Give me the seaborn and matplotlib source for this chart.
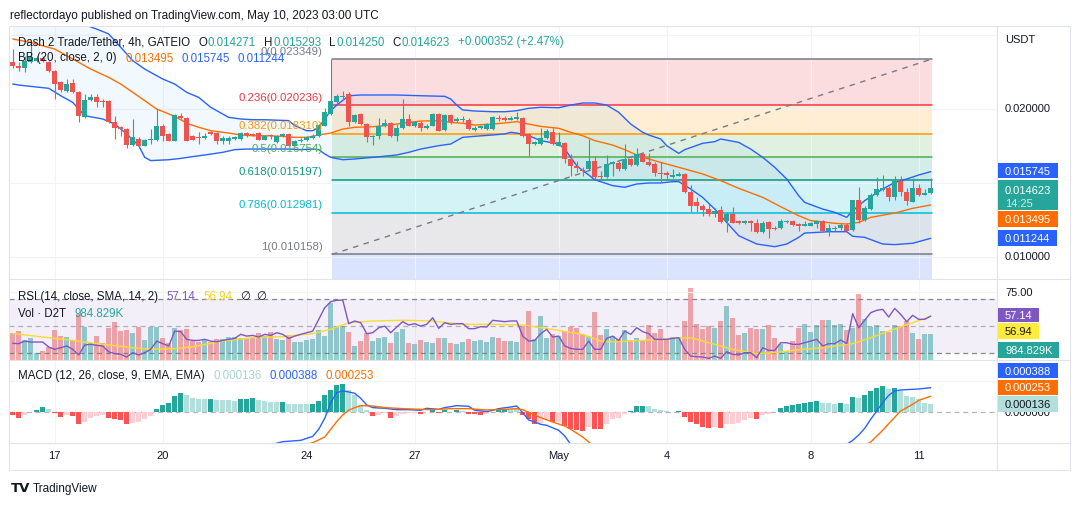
import numpy as np
import matplotlib
matplotlib.use('Agg')
import matplotlib.pyplot as plt
import seaborn as sns
from matplotlib.patches import Rectangle
from matplotlib.lines import Line2D

# Dash 2 Trade / Tether, 4h candles, GATEIO (index 0 = Apr 15 20:00 UTC)
opens = [0.02312, 0.02290, 0.02272, 0.02312, 0.02324, 0.02339, 0.02312, 0.02256, 0.02177, 0.02121,
         0.02173, 0.02110, 0.01941, 0.02060, 0.02076, 0.02054, 0.02054, 0.01907, 0.01874, 0.01862,
         0.01754, 0.01795, 0.01750, 0.01788, 0.01790, 0.01885, 0.01826, 0.01784, 0.01948, 0.01937,
         0.01813, 0.01811, 0.01799, 0.01840, 0.01835, 0.01784, 0.01784, 0.01795, 0.01795, 0.01835,
         0.01829, 0.01835, 0.01790, 0.01822, 0.01772, 0.01817, 0.01829, 0.01750, 0.01779, 0.01788,
         0.01799, 0.01813, 0.01885, 0.01964, 0.02042, 0.02076, 0.02099, 0.01907, 0.01964, 0.01896,
         0.01806, 0.01813, 0.01880, 0.01903, 0.01817, 0.01867, 0.01930, 0.01880, 0.01903, 0.01869,
         0.01885, 0.01964, 0.01858, 0.01957, 0.01919, 0.01921, 0.01925, 0.01858, 0.01867, 0.01862,
         0.01862, 0.01937, 0.01939, 0.01925, 0.01930, 0.01934, 0.01829, 0.01759, 0.01759, 0.01799,
         0.01840, 0.01750, 0.01768, 0.01660, 0.01615, 0.01588, 0.01592, 0.01649, 0.01547, 0.01536,
         0.01626, 0.01633, 0.01592, 0.01660, 0.01619, 0.01694, 0.01642, 0.01626, 0.01565, 0.01565,
         0.01536, 0.01547, 0.01559, 0.01439, 0.01367, 0.01345, 0.01322, 0.01286, 0.01316, 0.01241,
         0.01289, 0.01239, 0.01228, 0.01241, 0.01228, 0.01165, 0.01232, 0.01196, 0.01192, 0.01232,
         0.01244, 0.01221, 0.01210, 0.01210, 0.01223, 0.01241, 0.01176, 0.01187, 0.01194, 0.01217,
         0.01181, 0.01383, 0.01248, 0.01322, 0.01417, 0.01451, 0.01464, 0.01401, 0.01514, 0.01439,
         0.01372, 0.01464, 0.01419, 0.014271]
highs = [0.02402, 0.02312, 0.02357, 0.02436, 0.02357, 0.02357, 0.02324, 0.02263, 0.02189, 0.02200,
         0.02200, 0.02121, 0.02099, 0.02099, 0.02099, 0.02065, 0.02060, 0.01948, 0.01885, 0.01867,
         0.01930, 0.01806, 0.01795, 0.01862, 0.01997, 0.01896, 0.01835, 0.01964, 0.01970, 0.01941,
         0.01822, 0.01840, 0.01835, 0.01851, 0.01840, 0.01813, 0.01817, 0.01817, 0.01840, 0.01844,
         0.01835, 0.01840, 0.01822, 0.01829, 0.01822, 0.01835, 0.01833, 0.01788, 0.01799, 0.01817,
         0.01829, 0.01896, 0.02002, 0.023349, 0.02099, 0.02121, 0.02110, 0.01964, 0.01968, 0.01903,
         0.01822, 0.01934, 0.01930, 0.01912, 0.01896, 0.02065, 0.01964, 0.01919, 0.01919, 0.01896,
         0.01970, 0.01970, 0.01964, 0.01964, 0.01941, 0.01948, 0.01934, 0.01885, 0.01889, 0.01903,
         0.01948, 0.01957, 0.01948, 0.01948, 0.01975, 0.01941, 0.01835, 0.01784, 0.01867, 0.01862,
         0.01867, 0.01840, 0.01772, 0.01694, 0.01649, 0.01604, 0.01795, 0.01678, 0.01581, 0.01687,
         0.01649, 0.01649, 0.01761, 0.01664, 0.01732, 0.01709, 0.01700, 0.01637, 0.01637, 0.01581,
         0.01592, 0.01574, 0.01565, 0.01484, 0.01401, 0.01356, 0.01356, 0.01327, 0.01345, 0.01300,
         0.01334, 0.01246, 0.01246, 0.01250, 0.01255, 0.01241, 0.01241, 0.01210, 0.01255, 0.01250,
         0.01250, 0.01228, 0.01239, 0.01237, 0.01248, 0.01246, 0.01221, 0.01210, 0.01228, 0.01226,
         0.01383, 0.01469, 0.01340, 0.01428, 0.01536, 0.01552, 0.01475, 0.01547, 0.01543, 0.01462,
         0.01532, 0.01491, 0.01457, 0.015293]
lows = [0.02272, 0.02256, 0.02245, 0.02308, 0.02312, 0.02312, 0.02245, 0.02065, 0.02110, 0.02110,
        0.02105, 0.01907, 0.01934, 0.02054, 0.02009, 0.02009, 0.01903, 0.01795, 0.01817, 0.01732,
        0.01750, 0.01732, 0.01745, 0.01761, 0.01784, 0.01784, 0.01779, 0.01779, 0.01930, 0.01779,
        0.01786, 0.01761, 0.01795, 0.01822, 0.01761, 0.01761, 0.01761, 0.01788, 0.01790, 0.01806,
        0.01813, 0.01786, 0.01786, 0.01795, 0.01768, 0.01806, 0.01745, 0.01745, 0.01772, 0.01784,
        0.01795, 0.01806, 0.01880, 0.01957, 0.02031, 0.02060, 0.01885, 0.01903, 0.01892, 0.01777,
        0.01757, 0.01795, 0.01874, 0.01806, 0.01784, 0.01862, 0.01880, 0.01874, 0.01851, 0.01862,
        0.01880, 0.01847, 0.01851, 0.01896, 0.01907, 0.01912, 0.01858, 0.01851, 0.01862, 0.01858,
        0.01858, 0.01919, 0.01917, 0.01921, 0.01925, 0.01806, 0.01682, 0.01754, 0.01754, 0.01795,
        0.01757, 0.01745, 0.01633, 0.01547, 0.01574, 0.01547, 0.01588, 0.01525, 0.01520, 0.01532,
        0.01547, 0.01581, 0.01588, 0.01615, 0.01615, 0.01637, 0.01615, 0.01547, 0.01507, 0.01520,
        0.01532, 0.01543, 0.01430, 0.01300, 0.01304, 0.01273, 0.01273, 0.01266, 0.01226, 0.01165,
        0.01226, 0.01219, 0.01223, 0.01176, 0.01158, 0.01160, 0.01124, 0.01178, 0.01187, 0.01228,
        0.01210, 0.01176, 0.01205, 0.01205, 0.01192, 0.01172, 0.01142, 0.01176, 0.01183, 0.01174,
        0.01176, 0.01226, 0.01244, 0.01318, 0.01412, 0.01446, 0.01379, 0.01385, 0.01408, 0.01352,
        0.01367, 0.01412, 0.01415, 0.014250]
closes = [0.02285, 0.02272, 0.02324, 0.02346, 0.02339, 0.02324, 0.02256, 0.02166, 0.02128, 0.02166,
          0.02110, 0.01948, 0.02060, 0.02076, 0.02047, 0.02042, 0.01907, 0.01867, 0.01862, 0.01754,
          0.01806, 0.01745, 0.01788, 0.01795, 0.01885, 0.01817, 0.01784, 0.01957, 0.01934, 0.01784,
          0.01790, 0.01802, 0.01817, 0.01829, 0.01784, 0.01802, 0.01802, 0.01806, 0.01835, 0.01822,
          0.01824, 0.01790, 0.01817, 0.01813, 0.01817, 0.01829, 0.01750, 0.01784, 0.01790, 0.01806,
          0.01817, 0.01889, 0.01975, 0.02054, 0.02087, 0.02087, 0.01912, 0.01957, 0.01896, 0.01806,
          0.01817, 0.01880, 0.01903, 0.01813, 0.01867, 0.01930, 0.01885, 0.01907, 0.01869, 0.01885,
          0.01964, 0.01851, 0.01957, 0.01912, 0.01930, 0.01930, 0.01862, 0.01867, 0.01885, 0.01896,
          0.01941, 0.01930, 0.01925, 0.01934, 0.01941, 0.01813, 0.01761, 0.01772, 0.01799, 0.01851,
          0.01761, 0.01777, 0.01660, 0.01615, 0.01597, 0.01581, 0.01649, 0.01536, 0.01541, 0.01626,
          0.01642, 0.01592, 0.01660, 0.01619, 0.01694, 0.01642, 0.01619, 0.01563, 0.01556, 0.01554,
          0.01554, 0.01559, 0.01439, 0.01345, 0.01340, 0.01318, 0.01286, 0.01309, 0.01232, 0.01286,
          0.01228, 0.01226, 0.01241, 0.01226, 0.01165, 0.01226, 0.01187, 0.01187, 0.01244, 0.01244,
          0.01214, 0.01210, 0.01221, 0.01226, 0.01241, 0.01176, 0.01194, 0.01194, 0.01217, 0.01176,
          0.01383, 0.01248, 0.01327, 0.01417, 0.01457, 0.01464, 0.01401, 0.01514, 0.01435, 0.01379,
          0.01464, 0.01419, 0.01430, 0.014623]
# volume in thousands of D2T
volume_k = [1014, 1105, 741, 819, 260, 325, 481, 1131, 910, 871,
            741, 1755, 1274, 650, 910, 624, 1235, 1456, 1105, 1131,
            1040, 1274, 754, 1274, 1274, 845, 624, 1209, 1144, 1170,
            715, 689, 754, 689, 780, 780, 884, 884, 819, 780,
            845, 1014, 910, 1066, 780, 754, 936, 689, 689, 754,
            780, 1144, 910, 2184, 1274, 1300, 1079, 520, 715, 1040,
            715, 819, 871, 650, 1066, 1170, 624, 611, 741, 689,
            650, 819, 819, 624, 611, 689, 780, 715, 741, 689,
            871, 819, 715, 715, 676, 1300, 1885, 780, 1690, 819,
            1001, 910, 1105, 1261, 1209, 1001, 910, 1846, 949, 1170,
            910, 780, 1131, 741, 819, 741, 1339, 1014, 1170, 741,
            871, 871, 1495, 2795, 1391, 1170, 1300, 1235, 1495, 2080,
            1625, 949, 1040, 1235, 1170, 1170, 1339, 845, 585, 325,
            715, 1235, 1365, 1079, 1339, 1534, 1534, 1339, 1391, 1131,
            1235, 2561, 1586, 1261, 1339, 1105, 1079, 1339, 1300, 1495,
            1040, 806, 1001, 984.829]

# Bollinger Bands (20, close, 2) at (candle index, price)
bb_upper_idx = [0, 7, 13, 14, 16, 18, 20, 22, 25, 27, 29, 31, 33, 36, 38, 40, 42, 46, 47, 49, 50, 51, 52,
                53, 54, 56, 58, 64, 68, 72, 73, 74, 75, 77, 80, 82, 84, 86, 88, 91, 93, 95, 97, 99, 101,
                103, 105, 106, 108, 109, 111, 112, 115, 117, 118, 121, 123, 125, 127, 129, 131, 132, 135,
                137, 139, 140, 142, 145, 147, 149, 151, 153]
bb_upper = [0.0290, 0.0270, 0.02551, 0.02537, 0.02504, 0.02414, 0.02324, 0.02267, 0.02200, 0.02166,
            0.02110, 0.02076, 0.02009, 0.01941, 0.01930, 0.01925, 0.01925, 0.01919, 0.01885, 0.01851,
            0.01851, 0.01874, 0.01930, 0.01986, 0.02024, 0.02087, 0.02092, 0.02092, 0.02087, 0.02083,
            0.02065, 0.02024, 0.01991, 0.01984, 0.01979, 0.01979, 0.01986, 0.02002, 0.02009, 0.02006,
            0.02024, 0.02038, 0.02038, 0.02024, 0.01975, 0.01896, 0.01840, 0.01822, 0.01795, 0.01750,
            0.01698, 0.01723, 0.01766, 0.01777, 0.01795, 0.01772, 0.01727, 0.01671, 0.01604, 0.01525,
            0.01412, 0.01367, 0.01322, 0.01300, 0.01266, 0.01311, 0.01379, 0.01457, 0.01502, 0.01525,
            0.01552, 0.015745]
bb_basis_idx = [0, 3, 7, 10, 13, 16, 18, 20, 22, 24, 27, 29, 31, 33, 36, 38, 40, 42, 45, 47, 49, 51, 53,
                55, 57, 60, 62, 64, 66, 68, 71, 73, 75, 77, 80, 82, 84, 86, 88, 91, 93, 95, 97, 100, 102,
                104, 106, 108, 111, 115, 118, 121, 125, 128, 131, 133, 137, 139, 141, 143, 147, 150, 153]
bb_basis = [0.02470, 0.02447, 0.02402, 0.02335, 0.02267, 0.02211, 0.02166, 0.02110, 0.02054, 0.01997,
            0.01948, 0.01901, 0.01874, 0.01851, 0.01835, 0.01822, 0.01817, 0.01817, 0.01813, 0.01806,
            0.01806, 0.01822, 0.01835, 0.01862, 0.01874, 0.01878, 0.01885, 0.01896, 0.01907, 0.01916,
            0.01919, 0.01907, 0.01901, 0.01889, 0.01896, 0.01903, 0.01912, 0.01896, 0.01880, 0.01867,
            0.01840, 0.01817, 0.01784, 0.01754, 0.01723, 0.01687, 0.01660, 0.01637, 0.01604, 0.01559,
            0.01514, 0.01462, 0.01401, 0.01338, 0.01277, 0.01244, 0.01226, 0.01221, 0.01232, 0.01266,
            0.01295, 0.01327, 0.013495]
bb_lower_idx = [0, 1, 3, 6, 8, 10, 12, 15, 17, 19, 21, 22, 23, 26, 28, 30, 32, 35, 37, 39, 46, 48, 50, 51,
                52, 53, 55, 57, 60, 64, 66, 68, 71, 73, 74, 75, 77, 80, 82, 83, 84, 86, 88, 91, 92, 93,
                94, 95, 96, 97, 100, 102, 104, 106, 108, 110, 111, 113, 115, 117, 119, 121, 124, 127,
                129, 131, 132, 136, 139, 140, 142, 145, 147, 150, 153]
bb_lower = [0.02166, 0.02159, 0.02150, 0.02137, 0.02087, 0.02042, 0.01952, 0.01930, 0.01896, 0.01829,
            0.01750, 0.01671, 0.01649, 0.01655, 0.01664, 0.01676, 0.01687, 0.01705, 0.01723, 0.01727,
            0.01727, 0.01723, 0.01727, 0.01723, 0.01694, 0.01671, 0.01655, 0.01660, 0.01671, 0.01687,
            0.01705, 0.01727, 0.01750, 0.01761, 0.01784, 0.01806, 0.01813, 0.01822, 0.01829, 0.01840,
            0.01835, 0.01817, 0.01784, 0.01761, 0.01727, 0.01671, 0.01615, 0.01581, 0.01552, 0.01520,
            0.01480, 0.01469, 0.01491, 0.01498, 0.01498, 0.01507, 0.01507, 0.01457, 0.01400, 0.01322,
            0.01232, 0.01142, 0.01086, 0.01068, 0.01086, 0.01131, 0.01160, 0.01169, 0.01169, 0.01138,
            0.01131, 0.01086, 0.01082, 0.01091, 0.011244]

# Fibonacci retracement drawing
fib_levels = ['0', '0.236', '0.382', '0.5', '0.618', '0.786', '1']
fib_prices = [0.023349, 0.020236, 0.018310, 0.016754, 0.015197, 0.012981, 0.010158]
fib_colors = ['#787b86', '#f23645', '#ff9800', '#4caf50', '#089981', '#00bcd4', '#787b86']
fib_ext_price = 0.002006  # 1.618 level, off screen
fib_ext_color = '#2962ff'
fib_start, fib_end = 53.2, 153.2

# RSI (14) and its SMA (14)
rsi = [37.0, 36.7, 38.6, 37.9, 37.9, 37.9, 34.2, 32.5, 33.7, 35.0,
       32.5, 28.3, 35.7, 36.2, 35.4, 35.0, 30.7, 29.3, 28.8, 26.8,
       30.0, 28.3, 30.0, 32.5, 38.6, 36.7, 35.0, 46.0, 45.6, 39.9,
       39.1, 39.1, 39.9, 38.6, 38.1, 39.1, 39.9, 40.6, 43.6, 42.3,
       42.8, 41.6, 43.6, 42.8, 44.8, 43.6, 40.6, 42.3, 43.6, 44.8,
       46.0, 54.7, 63.3, 67.8, 68.8, 69.0, 51.5, 53.5, 52.2, 44.1,
       44.8, 48.5, 49.7, 44.8, 49.0, 53.0, 50.5, 51.5, 49.7, 51.0,
       55.9, 48.0, 52.2, 51.0, 51.5, 51.5, 47.8, 47.8, 49.3, 49.0,
       54.0, 53.5, 53.0, 53.5, 53.5, 42.3, 38.6, 39.1, 44.1, 47.3,
       41.6, 42.3, 35.0, 33.2, 32.5, 32.5, 38.6, 32.5, 32.5, 40.6,
       42.3, 39.1, 46.0, 43.6, 48.5, 45.6, 44.1, 39.9, 39.9, 39.9,
       40.6, 41.1, 32.5, 27.5, 27.0, 26.8, 25.8, 27.5, 25.8, 30.7,
       28.8, 28.3, 30.0, 30.0, 26.3, 33.7, 31.7, 31.7, 37.4, 37.4,
       36.2, 36.2, 37.4, 38.6, 39.9, 35.0, 36.7, 36.7, 39.4, 36.7,
       58.9, 48.5, 54.0, 59.6, 61.4, 62.1, 56.4, 62.8, 58.4, 53.0,
       57.7, 54.7, 54.7, 57.14]
rsi_sma_idx = [0, 5, 10, 15, 20, 23, 27, 30, 35, 40, 45, 50, 53, 56, 60, 65, 70, 75, 80, 85, 90, 95, 98,
               100, 105, 110, 113, 116, 120, 124, 127, 130, 135, 140, 143, 146, 150, 153]
rsi_sma = [44.3, 41.6, 39.1, 36.2, 33.7, 32.5, 33.0, 34.4, 38.6, 41.1, 41.9, 44.1, 47.3, 52.2, 53.5,
           54.0, 53.5, 51.0, 51.0, 50.5, 47.3, 43.6, 38.6, 38.1, 39.1, 40.6, 41.1, 37.4, 32.5, 29.3,
           30.0, 31.7, 33.7, 36.7, 41.1, 46.0, 52.2, 56.94]

# MACD (12, 26, 9) in millionths of USDT
macd_hist_micro = [-47, -84, -47, 10, 37, 84, 53, -10, -68, -47,
                   -58, -179, -147, -95, -58, -42, -84, -110, -126, -179,
                   -163, -153, -110, -58, 47, 110, 153, 258, 305, 274,
                   231, 205, 205, 216, 195, 189, 189, 179, 208, 214,
                   218, 195, 179, 168, 160, 165, 126, 126, 126, 126,
                   137, 179, 268, 347, 426, 452, 347, 274, 116, 32,
                   -58, -47, -16, -84, -58, -21, -16, -10, -21, 10,
                   32, -16, 32, 10, 32, 21, -21, -32, -47, -32,
                   10, 32, 47, 47, 47, -42, -110, -179, -163, -110,
                   -153, -147, -216, -268, -284, -295, -231, -258, -258, -179,
                   -100, -84, -21, 21, 100, 105, 100, 47, 32, 16,
                   0, 21, -68, -153, -189, -226, -242, -226, -242, -189,
                   -179, -163, -121, -84, -100, -47, -21, 10, 74, 100,
                   121, 137, 153, 168, 179, 153, 153, 137, 153, 137,
                   247, 231, 274, 337, 389, 416, 373, 389, 337, 258,
                   247, 205, 153, 136]
macd_idx = [40, 45, 48, 50, 51, 52, 53, 54, 55, 56, 57, 58, 59, 60, 62, 64, 66, 68, 69, 71, 72, 74, 76,
            77, 79, 80, 81, 83, 84, 85, 86, 87, 88, 89, 91, 92, 93, 96, 135, 139, 140, 141, 142, 143,
            144, 145, 146, 147, 148, 150, 151, 153]
macd_micro = [-584, -463, -442, -379, -268, -95, 153, 310, 337, 321, 300, 221, 116, 74, 63, 42, 42, 32,
              63, 47, 74, 105, 95, 32, 11, 32, 58, 84, 100, -5, -121, -153, -189, -205, -284, -373,
              -505, -610, -610, -505, -442, -358, -252, -110, 21, 153, 268, 337, 352, 363, 368, 388]
signal_idx = [45, 50, 52, 53, 54, 55, 56, 57, 58, 60, 62, 65, 68, 70, 73, 76, 79, 82, 84, 85, 86, 88, 90,
              92, 93, 95, 96, 98, 140, 143, 145, 146, 148, 150, 151, 153]
signal_micro = [-610, -479, -389, -268, -147, -42, 32, 74, 105, 100, 74, 58, 47, 42, 58, 58, 37, 47, 58,
                42, 0, -84, -153, -216, -268, -389, -468, -610, -610, -468, -284, -179, 21, 126, 189, 253]

date_idx = [7, 25, 49, 67, 91, 109, 133, 151]
date_labels = ['17', '20', '24', '27', 'May', '4', '8', '11']

# ---------------------------------------------------------------------------
sns.set_theme(style='white')
plt.rcParams['font.family'] = ['Liberation Sans', 'DejaVu Sans']

W, H = 1079, 506
TXT = '#131722'
UP, DOWN = '#26a69a', '#ef5350'
GRID = '#f0f3fa'
FRAME = '#e0e3eb'

fig = plt.figure(figsize=(W / 100, H / 100), dpi=100)
fig.patch.set_facecolor('white')
renderer = fig.canvas.get_renderer()


def rect(left, top, right, bottom):
    return [left / W, 1 - bottom / H, (right - left) / W, (bottom - top) / H]


def fy(y):
    return 1 - y / H


XLIM = (-0.62, 164.05)
ax = fig.add_axes(rect(9, 27, 997, 280))
ax_vol = fig.add_axes(rect(9, 280, 997, 360.5))
ax_rsi = fig.add_axes(rect(9, 280, 997, 360.5))
ax_macd = fig.add_axes(rect(9, 360.5, 997, 443.5))

for a in (ax, ax_vol, ax_rsi, ax_macd):
    a.set_xlim(*XLIM)
    for s in a.spines.values():
        s.set_visible(False)
    a.tick_params(length=0, labelleft=False, labelbottom=False, labelright=False)
    a.set_xticks(date_idx)
    a.set_axisbelow(True)
ax_rsi.patch.set_alpha(0)

n = len(closes)
idx = np.arange(n)
o, h, l, c = (np.array(v) for v in (opens, highs, lows, closes))
up = c >= o
cols = np.where(up, UP, DOWN)

# ---- main price pane
ax.set_ylim(0.008499, 0.025577)
ax.set_yticks([0.010, 0.015, 0.020, 0.025])
ax.grid(True, color=GRID, lw=0.8)

zone_bounds = fib_prices + [fib_ext_price]
zone_cols = fib_colors[1:] + [fib_ext_color]
for k in range(len(zone_cols)):
    ax.fill_between([fib_start, fib_end], zone_bounds[k], zone_bounds[k + 1],
                    color=zone_cols[k], alpha=0.17, lw=0, zorder=0.5)
for lev, price, col in zip(fib_levels, fib_prices, fib_colors):
    ax.plot([fib_start, fib_end], [price, price], color=col, lw=1.1, zorder=1.5)
    ax.annotate(f'{lev}({price:.6f})', xy=(fib_start - 1.55, price), xytext=(0, 2.5),
                textcoords='offset points', ha='right', va='bottom', color=col, fontsize=8.2, zorder=6)
ax.plot([fib_start, fib_end], [fib_prices[-1], fib_prices[0]], color='#787b86', lw=1,
        ls=(0, (4, 4)), zorder=1.6)

band_x = np.r_[bb_upper_idx, bb_lower_idx[::-1]]
band_y = np.r_[bb_upper, bb_lower[::-1]]
ax.fill(band_x, band_y, color='#2196f3', alpha=0.06, lw=0, zorder=1)
sns.lineplot(x=bb_upper_idx, y=bb_upper, ax=ax, color='#2962ff', lw=1, sort=False, zorder=2)
sns.lineplot(x=bb_lower_idx, y=bb_lower, ax=ax, color='#2962ff', lw=1, sort=False, zorder=2)
sns.lineplot(x=bb_basis_idx, y=bb_basis, ax=ax, color='#ff6d00', lw=1, sort=False, zorder=2)

ax.vlines(idx, l, h, colors=cols, lw=0.8, zorder=4)
body = np.maximum(np.abs(c - o), 0.00006)
ax.bar(idx, body, bottom=np.minimum(o, c), width=0.74, color=cols, lw=0, zorder=5)
ax.set_xlabel('')
ax.set_ylabel('')

# ---- RSI + volume pane
ax_vol.set_ylim(0, 3130)
ax_vol.set_yticks([])
ax_vol.grid(True, axis='x', color=GRID, lw=0.8)
vol_cols = np.where(up, '#92d2cc', '#f7a9a7')
ax_vol.bar(idx, volume_k, width=0.8, color=vol_cols, lw=0)

ax_rsi.set_ylim(24.96, 84.6)
ax_rsi.set_yticks([75])
ax_rsi.grid(True, axis='y', color=GRID, lw=0.8)
ax_rsi.axhspan(30, 70, color='#7e57c2', alpha=0.09, lw=0, zorder=1)
for lvl, a_ in ((70, 0.9), (50, 0.55), (30, 0.9)):
    ax_rsi.axhline(lvl, color='#787b86', lw=0.9, ls=(0, (4, 3)), alpha=a_, zorder=2)
sns.lineplot(x=rsi_sma_idx, y=rsi_sma, ax=ax_rsi, color='#f9dc2e', lw=1, sort=False, zorder=3)
sns.lineplot(x=idx, y=rsi, ax=ax_rsi, color='#7e57c2', lw=1, sort=False, zorder=4)
for a in (ax_vol, ax_rsi):
    a.set_xlabel('')
    a.set_ylabel('')

# ---- MACD pane
hist = np.array(macd_hist_micro) * 1e-6
prev = np.r_[hist[0], hist[:-1]]
hist_cols = np.where(hist >= 0, np.where(hist > prev, '#26a69a', '#b2dfdb'),
                     np.where(hist > prev, '#ffcdd2', '#ff5252'))
ax_macd.set_ylim(-0.000476, 0.000833)
ax_macd.set_yticks([0.0005])
ax_macd.grid(True, color=GRID, lw=0.8)
ax_macd.bar(idx, hist, width=0.8, color=hist_cols, lw=0, zorder=2)
ax_macd.axhline(0, color='#787b86', lw=0.9, ls=(0, (4, 3)), alpha=0.55, zorder=1.5)
sns.lineplot(x=macd_idx, y=np.array(macd_micro) * 1e-6, ax=ax_macd, color='#2962ff', lw=1,
             sort=False, zorder=3)
sns.lineplot(x=signal_idx, y=np.array(signal_micro) * 1e-6, ax=ax_macd, color='#ff6d00', lw=1,
             sort=False, zorder=3)
ax_macd.set_xlabel('')
ax_macd.set_ylabel('')
ax_macd.set_xticks(date_idx, date_labels)
ax_macd.tick_params(labelbottom=True, pad=5.5, labelsize=8, labelcolor=TXT)

# ---- frame lines
frame = [((9, 27), (1070, 27)), ((9, 471), (1070, 471)), ((9, 27), (9, 471)),
         ((1070, 27), (1070, 471)), ((997, 27), (997, 471)), ((9, 280), (1070, 280)),
         ((9, 360.5), (1070, 360.5)), ((9, 443.5), (1070, 443.5))]
for (x0, y0), (x1, y1) in frame:
    fig.add_artist(Line2D([x0 / W, x1 / W], [fy(y0), fy(y1)], transform=fig.transFigure,
                          color=FRAME, lw=0.8, zorder=1))


# ---- texts
def text_row(x, y, parts, size=8.3):
    for txt, col, gap in parts:
        t = fig.text(x / W, fy(y), txt, color=col, fontsize=size, va='center', ha='left', zorder=6)
        x = t.get_window_extent(renderer).x1 + gap


fig.text(10 / W, fy(16), 'reflectordayo published on TradingView.com, May 10, 2023 03:00 UTC',
         color=TXT, fontsize=8.5, va='center', ha='left')
text_row(18.5, 42.5, [('Dash 2 Trade/Tether, 4h, GATEIO', TXT, 8), ('O', TXT, 0.5), ('0.014271', UP, 8),
                      ('H', TXT, 0.5), ('0.015293', UP, 8), ('L', TXT, 0.5), ('0.014250', UP, 8),
                      ('C', TXT, 0.5), ('0.014623', UP, 8), ('+0.000352 (+2.47%)', UP, 0)])
text_row(18.5, 58.5, [('BB (20, close, 2, 0)', TXT, 8), ('0.013495', '#ff6d00', 8),
                      ('0.015745', '#2962ff', 8), ('0.011244', '#2962ff', 0)])
text_row(18.5, 297, [('RSI (14, close, SMA, 14, 2)', TXT, 8), ('57.14', '#7e57c2', 8),
                     ('56.94', '#f2d21b', 8), ('\u2205', TXT, 6), ('\u2205', TXT, 0)])
text_row(18.5, 314, [('Vol · D2T', TXT, 8), ('984.829K', UP, 0)])
text_row(18.5, 376, [('MACD (12, 26, close, 9, EMA, EMA)', TXT, 8), ('0.000136', '#a5d6d1', 8),
                     ('0.000388', '#2962ff', 8), ('0.000253', '#ff6d00', 0)])

# price scale
for y, txt in ((40, 'USDT'), (109, '0.020000'), (256.7, '0.010000'), (293.3, '75.00'), (413.5, '0.000000')):
    fig.text(1005 / W, fy(y), txt, color=TXT, fontsize=8, va='center', ha='left', zorder=3)


def tag(y0, y1, txt, bg, fg, ty=None):
    t = fig.text(1005 / W, fy(ty if ty else (y0 + y1) / 2), txt, color=fg, fontsize=8,
                 va='center', ha='left', zorder=6)
    x1 = t.get_window_extent(renderer).x1 + 6.5
    fig.add_artist(Rectangle((997.5 / W, fy(y1)), (x1 - 997.5) / W, (y1 - y0) / H,
                             transform=fig.transFigure, fc=bg, ec='none', zorder=5))


tag(164.3, 179, '0.015745', '#2962ff', 'white')
tag(181, 211, '0.014623', '#26a69a', 'white', ty=190.7)
fig.text(1005 / W, fy(204), '14:25', color='#c9ece7', fontsize=8, va='center', ha='left', zorder=6)
tag(212.3, 228.3, '0.013495', '#ff6d00', 'white')
tag(231, 247, '0.011244', '#2962ff', 'white')
tag(309, 323, '57.14', '#7e57c2', 'white')
tag(324, 339.5, '56.94', '#ffeb3b', TXT)
tag(343.3, 359.3, '984.829K', '#26a69a', 'white')
tag(364, 379.3, '0.000388', '#2962ff', 'white')
tag(380.7, 396, '0.000253', '#ff6d00', 'white')
tag(397.3, 412.7, '0.000136', '#b2dfdb', TXT)

# footer logo
fig.text(11 / W, fy(489), 'TV', color=TXT, fontsize=9.5, fontweight='heavy', va='center', ha='left',
         family='DejaVu Sans')
fig.text(33 / W, fy(489), 'TradingView', color=TXT, fontsize=8.5, va='center', ha='left')

fig.savefig('out.png', dpi=100, facecolor='white')
